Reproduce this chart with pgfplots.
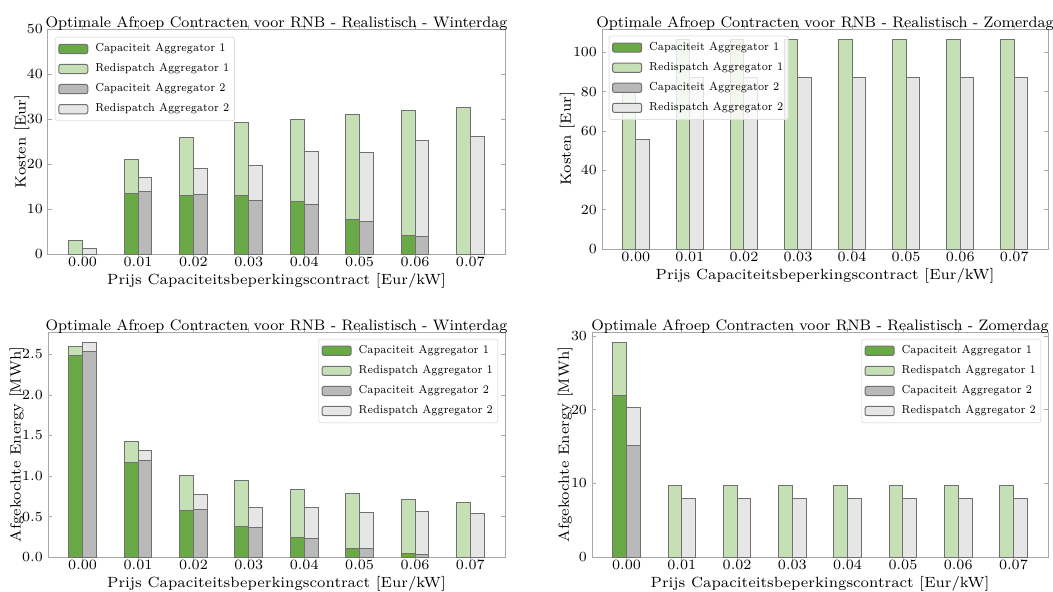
\documentclass[border=0pt]{standalone}
\usepackage{pgfplots}
\pgfplotsset{compat=1.18}
\definecolor{capA}{HTML}{6AAA46}
\definecolor{redA}{HTML}{C5E0B4}
\definecolor{capB}{HTML}{B9B9B9}
\definecolor{redB}{HTML}{E6E6E6}
\definecolor{edge}{HTML}{707070}
\definecolor{spine}{HTML}{A8A8A8}
\pgfplotsset{
  myaxis/.style={
    scale only axis,
    axis line style={spine, line width=0.5pt},
    every tick/.style={spine, line width=0.4pt},
    major tick length=2pt,
    tick align=inside,
    xtick={0,1,2,3,4,5,6,7},
    xticklabels={0.00,0.01,0.02,0.03,0.04,0.05,0.06,0.07},
    xmin=-0.625, xmax=7.625, ymin=0,
    ybar, bar width=0.25,
    ticklabel style={font=\fontsize{7.1}{8}\selectfont},
    xticklabel style={yshift=4pt},
    yticklabel style={xshift=1pt},
    label style={font=\fontsize{7.4}{8}\selectfont},
    every axis title shift=0pt,
    title style={font=\fontsize{7.6}{9}\selectfont, at={(0.5,1)}, anchor=base, yshift=0.6pt},
    xlabel={Prijs Capaciteitsbeperkingscontract [Eur/kW]},
    xlabel style={at={(axis description cs:0.5,0)}, anchor=center, yshift=-13.5pt},
    legend style={font=\fontsize{5.8}{6.5}\selectfont, draw=black!12, fill=white, fill opacity=0.8, text opacity=1, rounded corners=1pt, row sep=2.4pt, inner xsep=1.5pt, inner ysep=2pt, nodes={inner sep=1pt}, column sep=2.5pt},
    legend cell align=left,
  },
  bA/.style={bar shift=-0.125, draw=edge, line width=0.5pt, forget plot},
  bB/.style={bar shift=0.125, draw=edge, line width=0.5pt, forget plot},
}
\newcommand{\lt}[1]{\scalebox{0.87}[1]{#1}}
\newcommand{\mylegend}{%
  \addlegendimage{legend image code/.code={\draw[fill=capA, fill opacity=1, draw=edge, line width=0.5pt] (0pt,-2.3pt) rectangle (14.5pt,2.3pt);}}
  \addlegendentry{\lt{Capaciteit Aggregator 1}}
  \addlegendimage{legend image code/.code={\draw[fill=redA, fill opacity=1, draw=edge, line width=0.5pt] (0pt,-2.3pt) rectangle (14.5pt,2.3pt);}}
  \addlegendentry{\lt{Redispatch Aggregator 1}}
  \addlegendimage{legend image code/.code={\draw[fill=capB, fill opacity=1, draw=edge, line width=0.5pt] (0pt,-2.3pt) rectangle (14.5pt,2.3pt);}}
  \addlegendentry{\lt{Capaciteit Aggregator 2}}
  \addlegendimage{legend image code/.code={\draw[fill=redB, fill opacity=1, draw=edge, line width=0.5pt] (0pt,-2.3pt) rectangle (14.5pt,2.3pt);}}
  \addlegendentry{\lt{Redispatch Aggregator 2}}
}
\begin{document}
\begin{tikzpicture}
\useasboundingbox (0,0) rectangle (526.5pt,295.5pt);
% Top-left: Kosten winter
\begin{axis}[myaxis, at={(24pt,168.5pt)}, anchor=south west, width=228.5pt, height=112.5pt,
  ymax=50, ytick={0,10,20,30,40,50},
  title={Optimale Afroep Contracten voor RNB - Realistisch - Winterdag},
  ylabel={Kosten [Eur]},
  ylabel style={at={(axis description cs:-0.057,0.5)}, anchor=center},
  legend style={at={(0.015,0.965)}, anchor=north west}]
\mylegend
\addplot[bA, fill=redA] coordinates {(0,3.1) (1,21.1) (2,25.9) (3,29.3) (4,30.0) (5,30.9) (6,31.9) (7,32.6)};
\addplot[bA, fill=capA] coordinates {(1,13.4) (2,13.0) (3,13.0) (4,11.6) (5,7.6) (6,4.2)};
\addplot[bB, fill=redB] coordinates {(0,1.26) (1,16.9) (2,19.0) (3,19.6) (4,22.8) (5,22.6) (6,25.2) (7,26.1)};
\addplot[bB, fill=capB] coordinates {(1,13.8) (2,13.3) (3,12.0) (4,11.1) (5,7.3) (6,3.85)};
\end{axis}
% Top-right: Kosten summer
\begin{axis}[myaxis, at={(301pt,171pt)}, anchor=south west, width=223pt, height=110pt,
  ymax=111.9, ytick={0,20,40,60,80,100},
  title={Optimale Afroep Contracten voor RNB - Realistisch - Zomerdag},
  ylabel={Kosten [Eur]},
  ylabel style={at={(axis description cs:-0.078,0.5)}, anchor=center},
  legend style={at={(0.015,0.97)}, anchor=north west}]
\addplot[bA, fill=redA] coordinates {(0,80.0) (1,106.6) (2,106.6) (3,106.6) (4,106.6) (5,106.6) (6,106.6) (7,106.6)};
\addplot[bB, fill=redB] coordinates {(0,55.8) (1,87.3) (2,87.3) (3,87.3) (4,87.3) (5,87.3) (6,87.3) (7,87.3)};
\mylegend
\end{axis}
% Bottom-left: Energy winter
\begin{axis}[myaxis, at={(24pt,17pt)}, anchor=south west, width=228.5pt, height=112.5pt,
  ymax=2.777, ytick={0,0.5,1,1.5,2,2.5},
  yticklabel style={/pgf/number format/.cd, fixed, fixed zerofill, precision=1},
  title={Optimale Afroep Contracten voor RNB - Realistisch - Winterdag},
  ylabel={Afgekochte Energy [MWh]},
  ylabel style={at={(axis description cs:-0.068,0.5)}, anchor=center},
  legend style={at={(0.985,0.97)}, anchor=north east}]
\mylegend
\addplot[bA, fill=redA] coordinates {(0,2.595) (1,1.426) (2,1.004) (3,0.95) (4,0.835) (5,0.785) (6,0.715) (7,0.67)};
\addplot[bA, fill=capA] coordinates {(0,2.49) (1,1.17) (2,0.57) (3,0.38) (4,0.244) (5,0.11) (6,0.041)};
\addplot[bB, fill=redB] coordinates {(0,2.645) (1,1.31) (2,0.777) (3,0.616) (4,0.61) (5,0.545) (6,0.562) (7,0.537)};
\addplot[bB, fill=capB] coordinates {(0,2.533) (1,1.194) (2,0.587) (3,0.36) (4,0.231) (5,0.103) (6,0.037)};
\end{axis}
% Bottom-right: Energy summer
\begin{axis}[myaxis, at={(296pt,17pt)}, anchor=south west, width=228pt, height=112.5pt,
  ymax=30.56, ytick={0,10,20,30},
  title={Optimale Afroep Contracten voor RNB - Realistisch - Zomerdag},
  ylabel={Afgekochte Energy [MWh]},
  ylabel style={at={(axis description cs:-0.059,0.5)}, anchor=center},
  legend style={at={(0.985,0.97)}, anchor=north east}]
\mylegend
\addplot[bA, fill=redA] coordinates {(0,29.1) (1,9.73) (2,9.73) (3,9.73) (4,9.73) (5,9.73) (6,9.73) (7,9.73)};
\addplot[bA, fill=capA] coordinates {(0,21.9)};
\addplot[bB, fill=redB] coordinates {(0,20.3) (1,8.0) (2,8.0) (3,8.0) (4,8.0) (5,8.0) (6,8.0) (7,8.0)};
\addplot[bB, fill=capB] coordinates {(0,15.2)};
\end{axis}
\end{tikzpicture}
\end{document}
